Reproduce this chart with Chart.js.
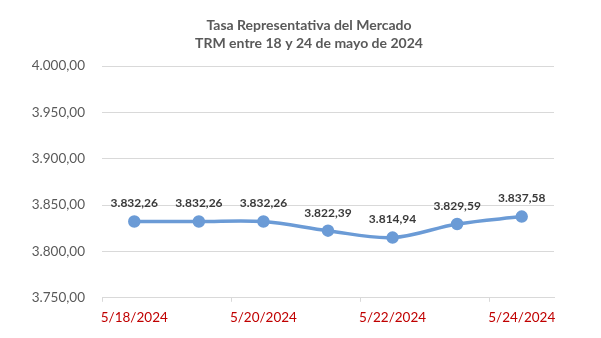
<!DOCTYPE html>
<html>
<head>
<meta charset="utf-8">
<script src="https://cdn.jsdelivr.net/npm/chart.js@4"></script>
<style>
  html, body { margin: 0; padding: 0; background: #fff; }
  #wrap { width: 601px; height: 338px; }
</style>
</head>
<body>
<div id="wrap"><canvas id="trmChart" width="601" height="338"></canvas></div>
<script>
// Data for chart
const labels = ['5/18/2024', '5/19/2024', '5/20/2024', '5/21/2024', '5/22/2024', '5/23/2024', '5/24/2024'];
const trmValues = [3832.26, 3832.26, 3832.26, 3822.39, 3814.94, 3829.59, 3837.58];
const titleLines = ['Tasa Representativa del Mercado', 'TRM entre 18 y 24 de mayo de 2024'];

// 3832.26 -> "3.832,26"
function fmt(n) {
    const parts = n.toFixed(2).split('.');
    const intPart = parts[0].replace(/\B(?=(\d{3})+(?!\d))/g, '.');
    return intPart + ',' + parts[1];
}

// Title drawn by hand so it sits where the original one is
const titlePlugin = {
    id: 'twoLineTitle',
    afterDraw(chart) {
        const ctx = chart.ctx;
        ctx.save();
        ctx.font = 'bold 14px Lato';
        ctx.fillStyle = '#595959';
        ctx.textAlign = 'center';
        ctx.textBaseline = 'middle';
        ctx.fillText(titleLines[0], 309, 25);
        ctx.fillText(titleLines[1], 309, 43);
        ctx.restore();
    }
};

// Value labels above each point
const valueLabels = {
    id: 'valueLabels',
    afterDatasetsDraw(chart) {
        const ctx = chart.ctx;
        const meta = chart.getDatasetMeta(0);
        ctx.save();
        ctx.font = 'bold 12px Lato';
        ctx.fillStyle = '#3a3a3a';
        ctx.textAlign = 'center';
        ctx.textBaseline = 'middle';
        meta.data.forEach((pt, i) => {
            ctx.fillText(fmt(trmValues[i]), pt.x, pt.y - 18);
        });
        ctx.restore();
    }
};

const lineColor = '#6b9bd6';

new Chart(document.getElementById('trmChart'), {
    type: 'line',
    data: {
        labels: labels,
        datasets: [{
            data: trmValues,
            borderColor: lineColor,
            backgroundColor: lineColor,
            borderWidth: 3.5,
            tension: 0.35,
            pointRadius: 4.5,
            pointBackgroundColor: lineColor,
            pointBorderColor: lineColor,
            fill: false
        }]
    },
    options: {
        responsive: false,
        animation: false,
        layout: { padding: { top: 66, left: 20, right: 47, bottom: 4 } },
        plugins: {
            legend: { display: false },
            title: { display: false },
            tooltip: { enabled: false }
        },
        scales: {
            x: {
                offset: true,
                grid: {
                    offset: true,
                    drawOnChartArea: false,
                    drawTicks: true,
                    tickLength: 4,
                    color: (c) => (c.index % 2 === 0 && c.index < labels.length) ? '#d9d9d9' : 'rgba(0,0,0,0)'
                },
                border: { display: true, color: '#d9d9d9', width: 1 },
                ticks: {
                    autoSkip: false,
                    maxRotation: 0,
                    padding: 8,
                    color: '#c00000',
                    font: { family: 'Lato', size: 13.5 },
                    callback: function (v, i) { return i % 2 === 0 ? labels[i] : ''; }
                }
            },
            y: {
                min: 3750,
                max: 4000,
                afterFit: (s) => { s.width = 82; },
                grid: { color: '#d9d9d9', drawTicks: false },
                border: { display: false },
                ticks: {
                    stepSize: 50,
                    padding: 17,
                    color: '#595959',
                    font: { family: 'Lato', size: 13.5 },
                    callback: (v) => fmt(v)
                }
            }
        }
    },
    plugins: [titlePlugin, valueLabels]
});
</script>
</body>
</html>
